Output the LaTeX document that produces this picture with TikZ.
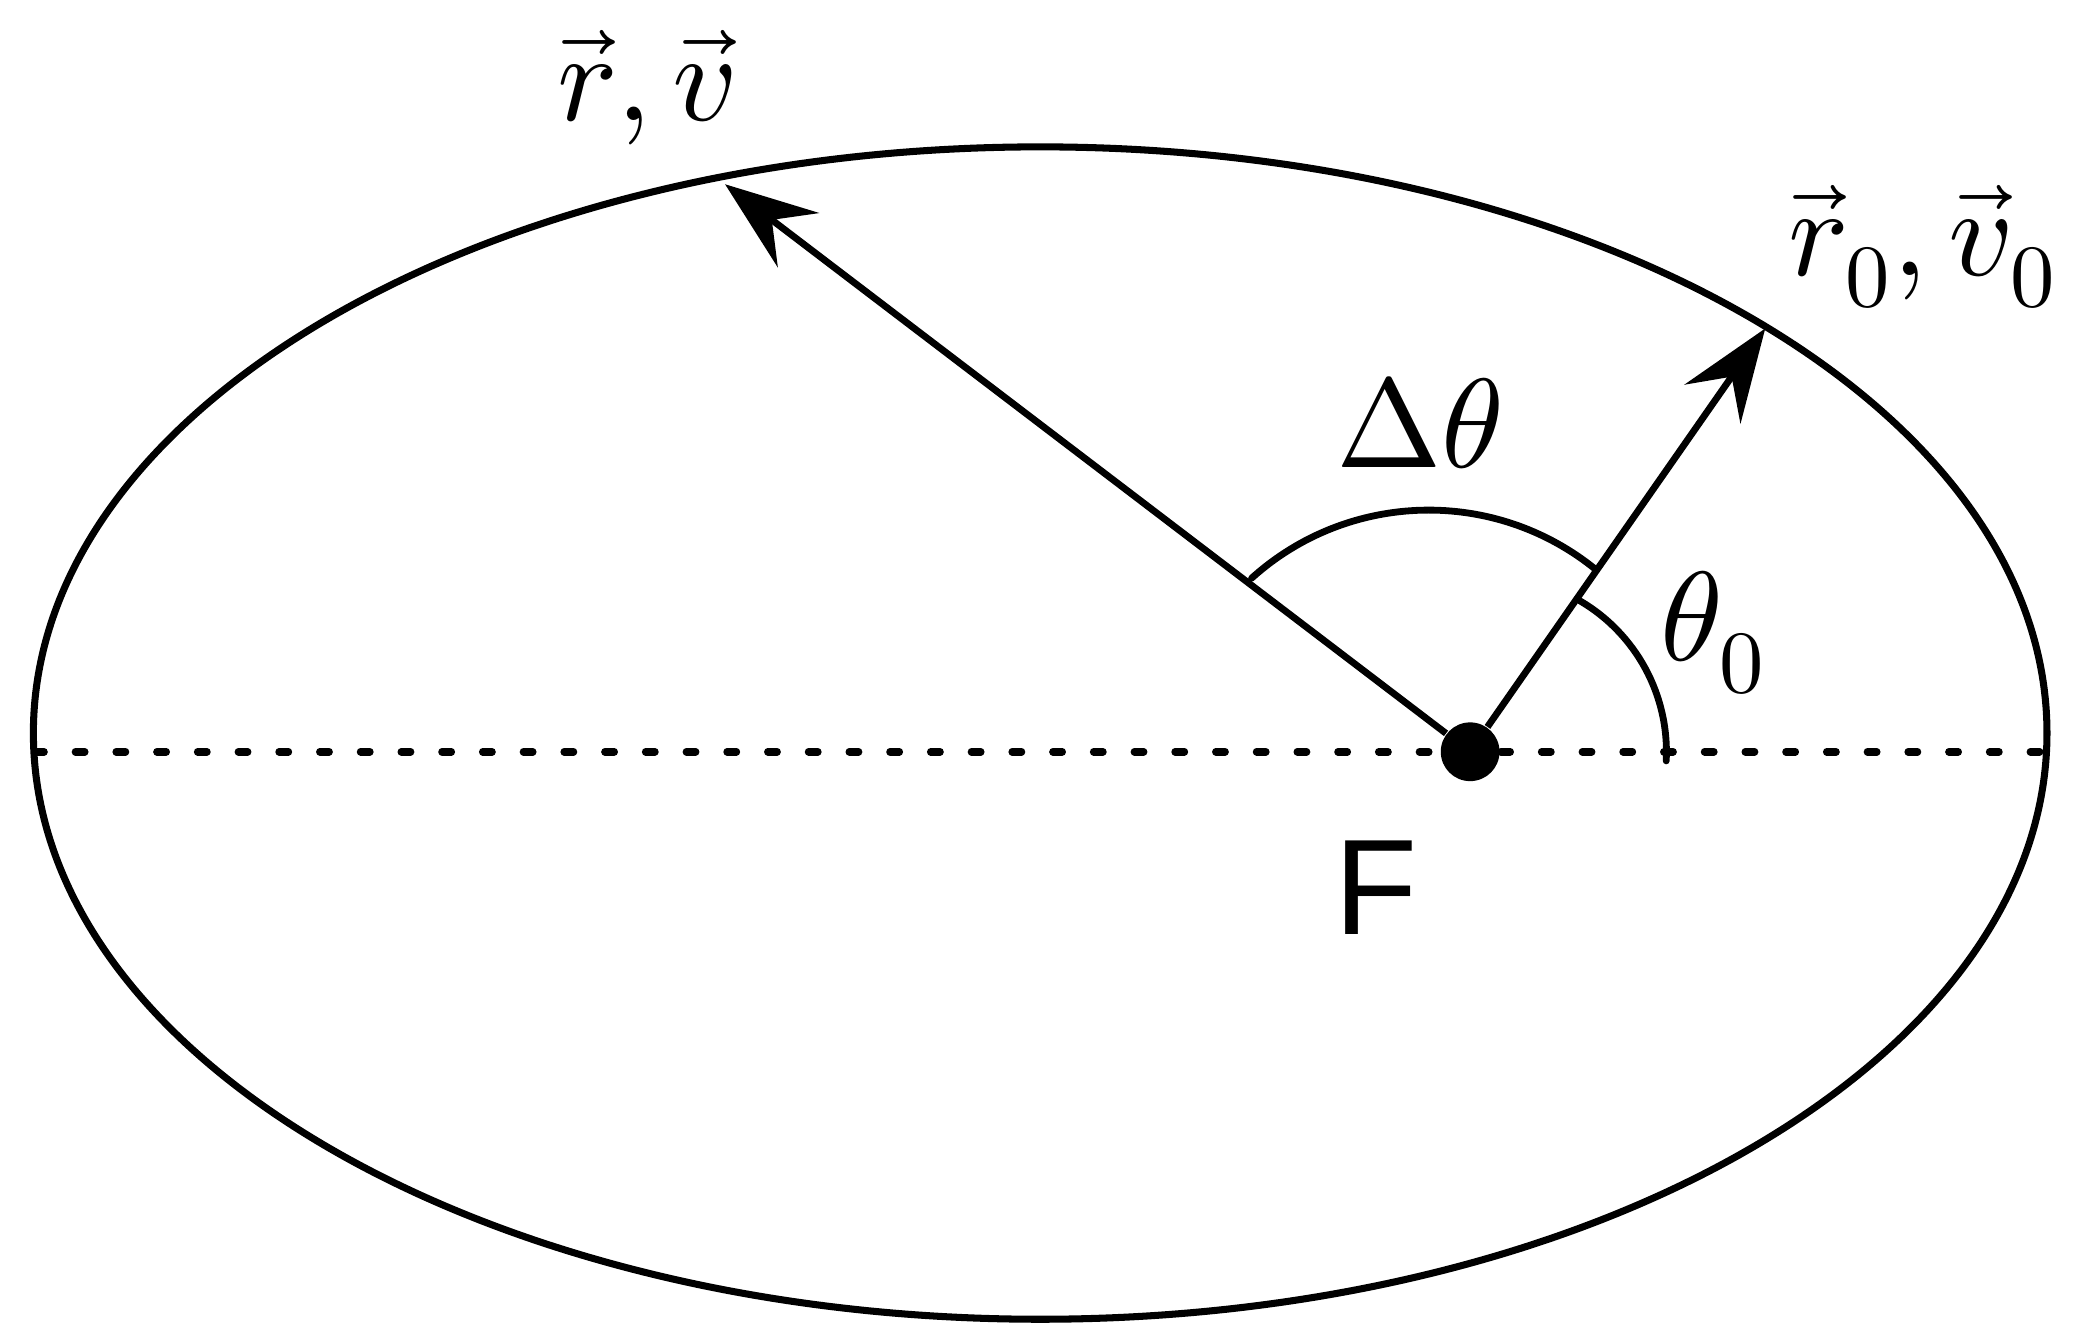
\documentclass[tikz,border=0pt]{standalone}
\usepackage{fontspec}
\usepackage{unicode-math}
\setmathfont{Latin Modern Math}
\newfontfamily\labelsans{Liberation Sans}
\usetikzlibrary{arrows.meta}
\tikzset{
  orbit/.style={line width=1.5pt},
  axisline/.style={line width=1.6pt, line cap=round, dash pattern=on 0.07cm off 0.235cm},
  radvec/.style={line width=1.45pt, -{Stealth[length=0.69cm, width=0.51cm, inset=0.25cm]}},
  anglearc/.style={line width=1.45pt, line cap=round},
  mathlbl/.style={inner sep=0pt, font=\fontsize{27}{31}\selectfont},
  focusdot/.style={circle, fill=black, minimum size=0.44cm, inner sep=0pt},
}
\begin{document}
\begin{tikzpicture}
\useasboundingbox (0,0) rectangle (15.60,10.04);
% orbit
\draw[orbit] (7.79,4.55) ellipse [x radius=7.54cm, y radius=4.39cm];
% axis
\coordinate (axL) at (0.26,4.41);
\coordinate (axR) at (15.30,4.41);
\draw[axisline] (axL) -- (axR);
% focus
\node[focusdot] (F) at (11.01,4.41) {};
\node[inner sep=0pt, anchor=base west, font=\labelsans\fontsize{29}{34}\selectfont] (Flbl) at (9.99,3.04) {F};
% vectors
\coordinate (tipA) at (5.43,8.66);
\coordinate (tipB) at (13.22,7.58);
\draw[radvec] (F) -- (tipA);
\draw[radvec] (F) -- (tipB);
% angle arcs
\draw[anglearc] (10.70,4.24) ++(50.7:1.98) arc[start angle=50.7, end angle=132.1, radius=1.98];
\draw[anglearc] (11.17,4.41) ++(-3:1.31) arc[start angle=-3, end angle=59.7, radius=1.31];
% labels
\node[mathlbl] (lblrv) at (4.84,9.38) {$\vec{r},\vec{v}$};
\node[mathlbl] (lblrv0) at (14.40,8.19) {$\vec{r}_0,\vec{v}_0$};
\node[mathlbl, anchor=base west] (lbldt) at (10.00,6.54) {$\Delta\theta$};
\node[mathlbl] (lblt0) at (12.83,5.30) {$\theta_0$};
\end{tikzpicture}
\end{document}
